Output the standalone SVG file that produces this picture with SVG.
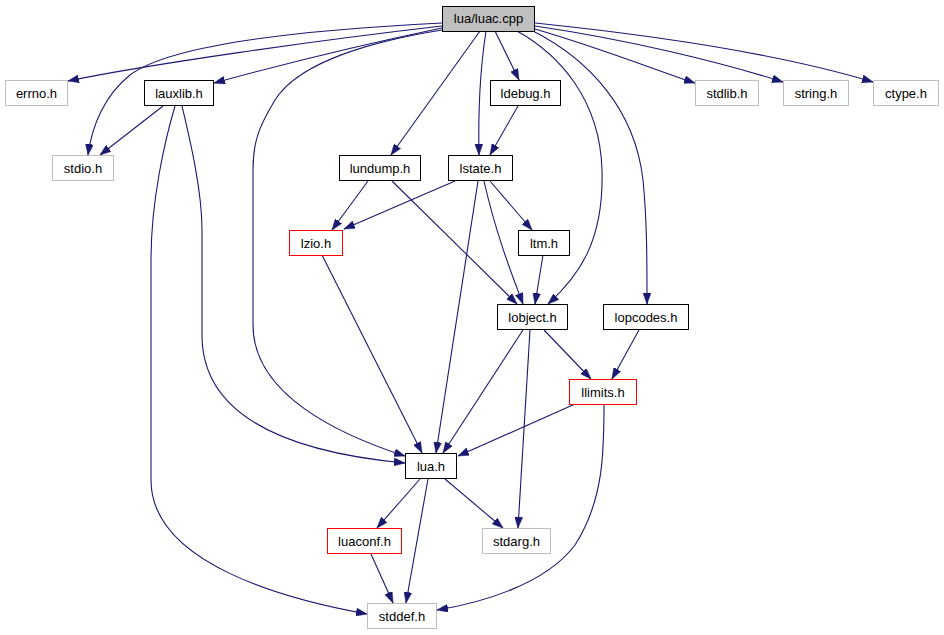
<svg xmlns="http://www.w3.org/2000/svg" width="944" height="635" viewBox="0 0 944 635">
<style>
.n rect{fill:#fff;stroke:#000;stroke-width:1}
.g rect{fill:#fff;stroke:#bfbfbf}
.r rect{fill:#fff;stroke:#ff0000}
.root rect{fill:#bfbfbf;stroke:#000}
text{font-family:"Liberation Sans",Arial,sans-serif;font-size:13px;text-anchor:middle;fill:#000}
#edges path{fill:none;stroke:#191970;stroke-width:1.1;marker-end:url(#ah)}
</style>
<defs>
<marker id="ah" viewBox="0 0 11 8" refX="11" refY="4" markerWidth="11" markerHeight="8" markerUnits="userSpaceOnUse" orient="auto">
<path d="M0,0 L11,4 L0,8 z" fill="#191970" stroke="#191970" stroke-width="0.5"/>
</marker>
</defs>
<rect width="944" height="635" fill="#fff"/>
<g id="edges">
<path d="M442,26 C 320,40 150,64 68,81"/>
<path d="M442,23 C 300,30 170,45 130,75 C 105,95 92,125 88,155"/>
<path d="M442,28 C 360,45 280,65 214,83"/>
<path d="M442,30 C 380,40 300,60 275,100 C 260,125 253,140 253,170 L253,325 C 253,395 340,435 405,456"/>
<path d="M182,106 C 190,140 202,190 202,230 L202,335 C 202,430 320,455 405,463"/>
<path d="M175,106 C 165,140 151,200 151,260 L151,480 C 151,565 290,600 367,614"/>
<path d="M163,106 L100,155"/>
<path d="M480,31 L391,155"/>
<path d="M486,31 C 480,70 478,110 479,155"/>
<path d="M495,31 L519,80"/>
<path d="M518,106 L490,155"/>
<path d="M517,31 C 560,55 600,100 602,170 C 604,240 580,275 548,304"/>
<path d="M533,31 C 590,60 635,110 643,180 C 647,220 647,260 647,304"/>
<path d="M535,29 C 600,48 650,68 695,83"/>
<path d="M535,26 C 630,40 720,62 783,82"/>
<path d="M535,23 C 700,40 800,60 873,82"/>
<path d="M368,181 L332,230"/>
<path d="M392,181 L517,304"/>
<path d="M455,181 L344,229"/>
<path d="M478,181 L436,453"/>
<path d="M484,181 C 495,230 510,270 523,304"/>
<path d="M490,181 L532,230"/>
<path d="M543,255 L535,304"/>
<path d="M322,255 L422,453"/>
<path d="M523,330 L443,453"/>
<path d="M530,330 L518,528"/>
<path d="M544,330 L591,379"/>
<path d="M639,330 L612,379"/>
<path d="M575,404 L458,456"/>
<path d="M604,404 C 604,450 604,500 575,545 C 545,585 480,603 437,610"/>
<path d="M420,479 L377,528"/>
<path d="M428,479 L406,603"/>
<path d="M445,479 L503,528"/>
<path d="M371,554 L393,603"/>
</g>
<g id="luac" class="root"><rect x="442.5" y="6.5" width="92" height="25"/><text x="488.5" y="23">lua/luac.cpp</text></g>
<g id="errno" class="g"><rect x="5.5" y="80.5" width="62" height="25"/><text x="36.5" y="97.5">errno.h</text></g>
<g id="lauxlib" class="n"><rect x="144.5" y="80.5" width="69" height="25"/><text x="179" y="97.5">lauxlib.h</text></g>
<g id="ldebug" class="n"><rect x="490.5" y="80.5" width="70" height="25"/><text x="525.5" y="97.5">ldebug.h</text></g>
<g id="stdlib" class="g"><rect x="695.5" y="80.5" width="63" height="25"/><text x="727" y="97.5">stdlib.h</text></g>
<g id="string" class="g"><rect x="783.5" y="80.5" width="65" height="25"/><text x="816" y="97.5">string.h</text></g>
<g id="ctype" class="g"><rect x="873.5" y="80.5" width="65" height="25"/><text x="906" y="97.5">ctype.h</text></g>
<g id="stdio" class="g"><rect x="52.5" y="155.5" width="61" height="25"/><text x="83" y="172.5">stdio.h</text></g>
<g id="lundump" class="n"><rect x="339.5" y="155.5" width="81" height="25"/><text x="380" y="172.5">lundump.h</text></g>
<g id="lstate" class="n"><rect x="448.5" y="155.5" width="64" height="25"/><text x="480.5" y="172.5">lstate.h</text></g>
<g id="lzio" class="r"><rect x="289.5" y="230.5" width="53" height="25"/><text x="316" y="247.5">lzio.h</text></g>
<g id="ltm" class="n"><rect x="518.5" y="230.5" width="51" height="25"/><text x="544" y="247.5">ltm.h</text></g>
<g id="lobject" class="n"><rect x="497.5" y="304.5" width="70" height="25"/><text x="532.5" y="321.5">lobject.h</text></g>
<g id="lopcodes" class="n"><rect x="603.5" y="304.5" width="85" height="25"/><text x="646" y="321.5">lopcodes.h</text></g>
<g id="llimits" class="r"><rect x="569.5" y="379.5" width="67" height="25"/><text x="603" y="396.5">llimits.h</text></g>
<g id="lua" class="n"><rect x="405.5" y="453.5" width="51" height="25"/><text x="431" y="470.5">lua.h</text></g>
<g id="luaconf" class="r"><rect x="327.5" y="528.5" width="74" height="25"/><text x="364.5" y="545.5">luaconf.h</text></g>
<g id="stdarg" class="g"><rect x="482.5" y="528.5" width="68" height="25"/><text x="516.5" y="545.5">stdarg.h</text></g>
<g id="stddef" class="g"><rect x="367.5" y="603.5" width="69" height="25"/><text x="402" y="620.5">stddef.h</text></g>
</svg>
